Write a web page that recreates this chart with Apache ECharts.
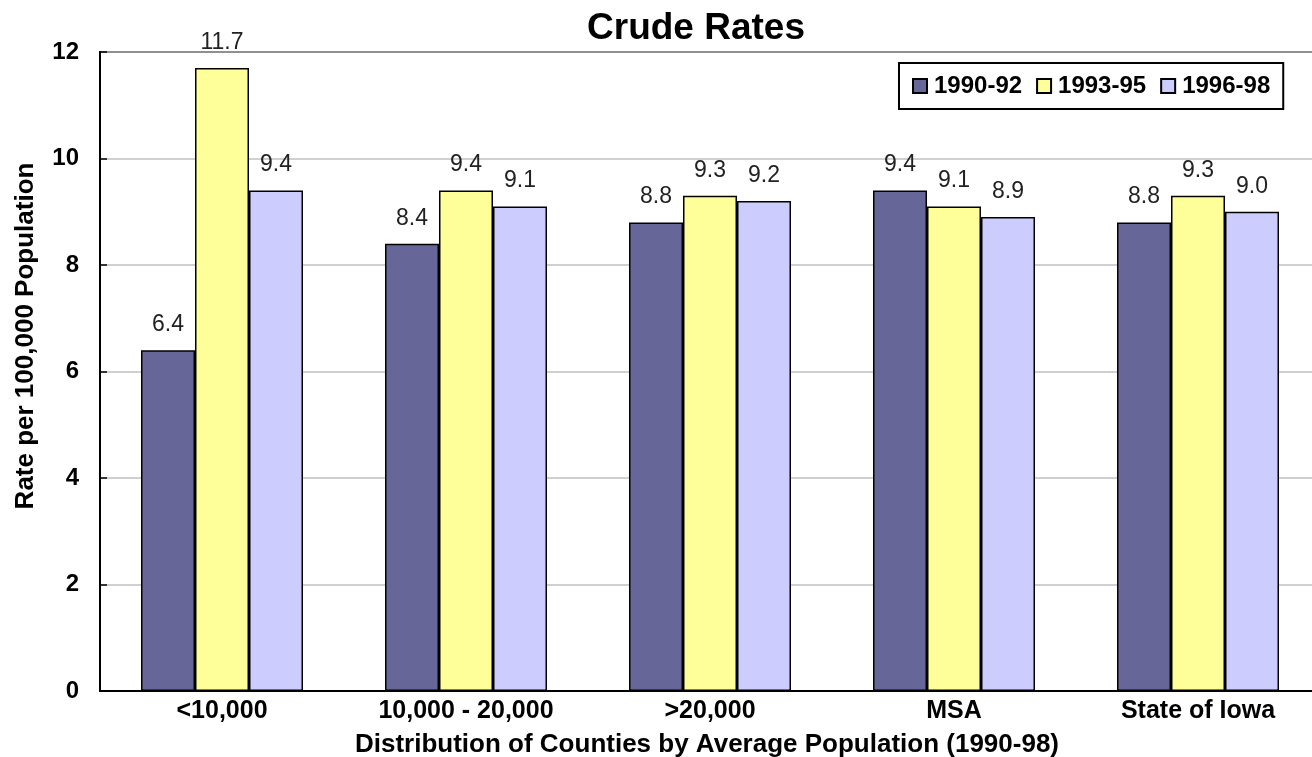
<!DOCTYPE html>
<html>
<head>
<meta charset="utf-8">
<script src="https://cdn.jsdelivr.net/npm/echarts@6/dist/echarts.min.js"></script>
<style>
html,body{margin:0;padding:0;background:#fff;}
#chart{width:1312px;height:757px;}
</style>
</head>
<body>
<div id="chart"></div>
<script>
const categories = ['<10,000', '10,000 - 20,000', '>20,000', 'MSA', 'State of Iowa'];
const seriesNames = ['1990-92', '1993-95', '1996-98'];
const values1990 = [6.4, 8.4, 8.8, 9.4, 8.8];
const values1993 = [11.7, 9.4, 9.3, 9.1, 9.3];
const values1996 = [9.4, 9.1, 9.2, 8.9, 9.0];
const yTicks = [0, 2, 4, 6, 8, 10, 12];
const colors = ['#666699', '#FFFF99', '#CCCCFF'];
const titleText = 'Crude Rates';
const xName = 'Distribution of Counties by Average Population (1990-98)';
const yName = 'Rate per 100,000 Population';

const FONT = "'Liberation Sans', Arial, sans-serif";
const chart = echarts.init(document.getElementById('chart'), null, {renderer: 'canvas'});

function mkSeries(name, data, color) {
  return {
    name: name,
    type: 'bar',
    data: data,
    barWidth: 54,
    barGap: '0%',
    itemStyle: {color: color, borderColor: '#000', borderWidth: 1.5},
    label: {
      show: true,
      position: 'top',
      distance: 14,
      formatter: p => p.value.toFixed(1),
      fontFamily: FONT,
      fontSize: 23,
      color: '#222'
    }
  };
}

chart.setOption({
  animation: false,
  backgroundColor: '#fff',
  graphic: [
    {type: 'text', x: 696, y: 29, style: {text: titleText, font: 'bold 37px ' + FONT, fill: '#000', align: 'center', verticalAlign: 'middle'}},
    {type: 'text', x: 707, y: 745, style: {text: xName, font: 'bold 26px ' + FONT, fill: '#000', align: 'center', verticalAlign: 'middle'}},
    {type: 'text', x: 26, y: 336, rotation: Math.PI / 2, style: {text: yName, font: 'bold 26px ' + FONT, fill: '#000', align: 'center', verticalAlign: 'middle'}}
  ],
  legend: {
    left: 899, top: 63,
    padding: [11, 13],
    borderColor: '#000', borderWidth: 2,
    itemWidth: 14, itemHeight: 14, itemGap: 14,
    icon: 'rect',
    textStyle: {fontFamily: FONT, fontWeight: 'bold', fontSize: 24, color: '#000', padding: [0, 0, 0, 2]},
    data: seriesNames
  },
  grid: {
    left: 100, top: 52, width: 1220, height: 639,
    outerBoundsMode: 'none',
    containLabel: false,
    show: true, borderColor: '#000', borderWidth: 2, backgroundColor: '#fff'
  },
  xAxis: {
    type: 'category',
    data: categories,
    axisLine: {lineStyle: {color: '#000', width: 2}},
    axisTick: {show: false},
    axisLabel: {margin: 8, fontFamily: FONT, fontWeight: 'bold', fontSize: 25, color: '#000', interval: 0}
  },
  yAxis: {
    type: 'value',
    min: yTicks[0], max: yTicks[yTicks.length - 1], interval: 2,
    axisLine: {show: true, lineStyle: {color: '#000', width: 2}},
    axisTick: {show: true, inside: true, length: 7, lineStyle: {color: '#000', width: 1.5}},
    splitLine: {show: true, lineStyle: {color: '#c0c0c0', width: 1.5}},
    axisLabel: {margin: 21, fontFamily: FONT, fontWeight: 'bold', fontSize: 24, color: '#000'}
  },
  series: [
    mkSeries(seriesNames[0], values1990, colors[0]),
    mkSeries(seriesNames[1], values1993, colors[1]),
    mkSeries(seriesNames[2], values1996, colors[2])
  ]
});
</script>
</body>
</html>
